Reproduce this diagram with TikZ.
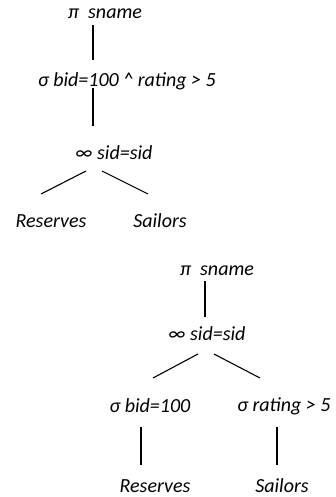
\documentclass[tikz,border=0pt]{standalone}
\usepackage{fontspec}
\setmainfont{Carlito}
\begin{document}
\begin{tikzpicture}[x=1pt,y=-1pt,
  lbl/.style={inner sep=0pt,font=\fontsize{20}{24}\selectfont\itshape},
  trunk/.style={line width=1.6pt},
  branch/.style={line width=1.1pt}]
\useasboundingbox (0,0) rectangle (335,497);

% first plan: selection above the join
\node[lbl] (pi1)  at (105,14)  {π\ \ sname};
\node[lbl] (sel1) at (127,81)  {σ bid=100 \^{} rating > 5};
\node[lbl] (join1) at (114,153) {∞ sid=sid};
\node[lbl] (res1) at (51,221)  {Reserves};
\node[lbl] (sai1) at (160,221) {Sailors};

\draw[trunk] ([shift={(-12,11)}]pi1.center) -- ([shift={(-34,-21)}]sel1.center);
\draw[trunk] ([shift={(-34,7)}]sel1.center) -- ([shift={(-21,-27)}]join1.center);
\draw[branch] ([shift={(-28,18)}]join1.center) -- ([shift={(-10,-27)}]res1.center);
\draw[branch] ([shift={(-12,18)}]join1.center) -- ([shift={(-12,-27)}]sai1.center);

% second plan: selections pushed below the join
\node[lbl] (pi2)  at (217,271) {π\ \ sname};
\node[lbl] (join2) at (207,334) {∞ sid=sid};
\node[lbl] (sel2) at (150,406) {σ bid=100};
\node[lbl] (sel3) at (284,406) {σ rating > 5};
\node[lbl] (res2) at (155,486) {Reserves};
\node[lbl] (sai2) at (282,486) {Sailors};

\draw[trunk] ([shift={(-12,10)}]pi2.center) -- ([shift={(-2,-17)}]join2.center);
\draw[branch] ([shift={(-9,20)}]join2.center) -- ([shift={(3,-28)}]sel2.center);
\draw[branch] ([shift={(7,20)}]join2.center) -- ([shift={(-24,-28)}]sel3.center);
\draw[trunk] ([shift={(-9,21)}]sel2.center) -- ([shift={(-14,-21)}]res2.center);
\draw[trunk] ([shift={(-7,21)}]sel3.center) -- ([shift={(-5,-21)}]sai2.center);
\end{tikzpicture}
\end{document}
